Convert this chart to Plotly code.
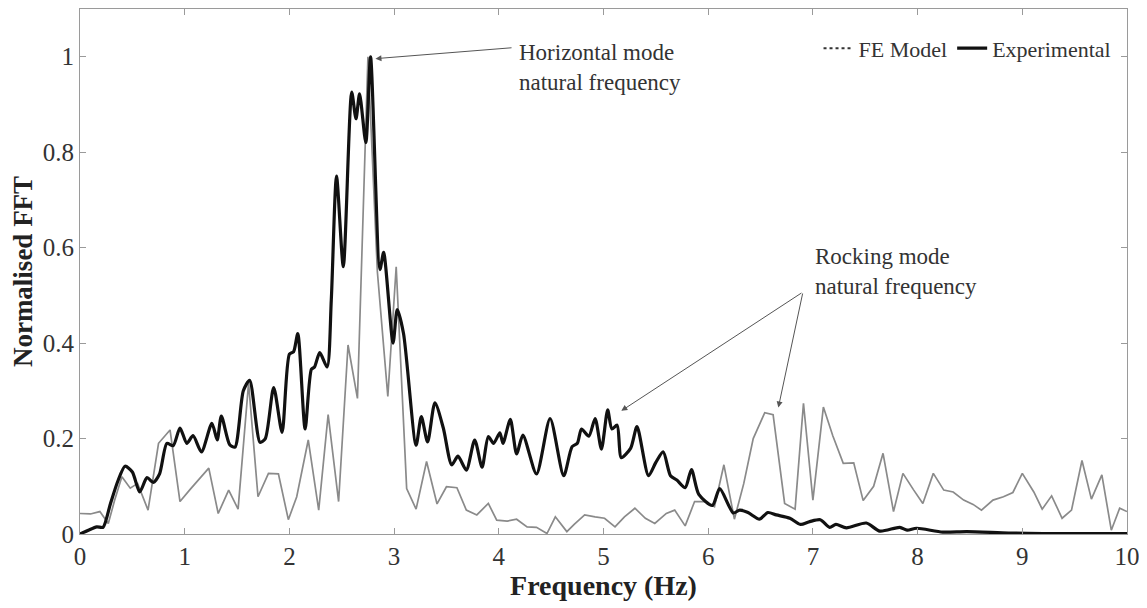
import plotly.graph_objects as go

# Experimental (smooth black curve)
exp_f = [0, 0.08, 0.16, 0.22, 0.29, 0.36, 0.43, 0.50, 0.57, 0.64, 0.70, 0.76, 0.83, 0.89, 0.955,
         1.02, 1.08, 1.16, 1.26, 1.31, 1.35, 1.43, 1.48, 1.56, 1.62, 1.72, 1.77, 1.85, 1.93,
         2.00, 2.04, 2.08, 2.15, 2.21, 2.24, 2.29, 2.36, 2.40, 2.45, 2.515, 2.595, 2.636, 2.67,
         2.73, 2.775, 2.865, 2.90, 2.99, 3.03, 3.09, 3.21, 3.26, 3.32, 3.39, 3.47, 3.55, 3.61,
         3.69, 3.77, 3.84, 3.90, 3.95, 4.01, 4.04, 4.11, 4.17, 4.23, 4.36, 4.49, 4.62, 4.70,
         4.75, 4.79, 4.86, 4.92, 4.98, 5.04, 5.08, 5.13, 5.17, 5.26, 5.32, 5.43, 5.50, 5.57,
         5.64, 5.70, 5.78, 5.84, 5.91, 6.04, 6.11, 6.24, 6.30, 6.38, 6.49, 6.57, 6.65, 6.78,
         6.88, 6.97, 7.07, 7.16, 7.22, 7.32, 7.51, 7.64, 7.83, 7.90, 7.99, 8.24, 8.47, 8.87,
         9.2, 10.0]
exp_v = [0.0, 0.008, 0.015, 0.014, 0.063, 0.11, 0.142, 0.13, 0.088, 0.118, 0.108, 0.126, 0.19,
         0.185, 0.222, 0.19, 0.206, 0.172, 0.232, 0.197, 0.247, 0.187, 0.182, 0.30, 0.322,
         0.192, 0.20, 0.307, 0.213, 0.377, 0.382, 0.42, 0.22, 0.345, 0.35, 0.38, 0.35, 0.49,
         0.75, 0.56, 0.926, 0.87, 0.922, 0.82, 1.0, 0.554, 0.59, 0.40, 0.47, 0.42, 0.186,
         0.246, 0.193, 0.275, 0.222, 0.145, 0.163, 0.134, 0.197, 0.14, 0.204, 0.19, 0.212,
         0.19, 0.24, 0.168, 0.207, 0.126, 0.242, 0.122, 0.183, 0.19, 0.22, 0.205, 0.242,
         0.178, 0.26, 0.22, 0.228, 0.16, 0.18, 0.225, 0.122, 0.15, 0.172, 0.122, 0.113,
         0.097, 0.135, 0.083, 0.06, 0.095, 0.044, 0.05, 0.045, 0.031, 0.045, 0.04, 0.033,
         0.02, 0.026, 0.03, 0.014, 0.02, 0.013, 0.023, 0.006, 0.014, 0.008, 0.012, 0.004,
         0.005, 0.002, 0.001, 0.001]

# FE Model (thin grey polyline)
fe_f = [0, 0.1, 0.19, 0.27, 0.33, 0.40, 0.48, 0.55, 0.65, 0.75, 0.86, 0.955, 1.05, 1.14, 1.23,
        1.32, 1.42, 1.51, 1.61, 1.70, 1.80, 1.895, 1.99, 2.07, 2.18, 2.28, 2.37, 2.47, 2.56,
        2.65, 2.75, 2.84, 2.94, 3.02, 3.12, 3.21, 3.31, 3.41, 3.50, 3.60, 3.69, 3.79, 3.90,
        3.98, 4.08, 4.17, 4.27, 4.36, 4.46, 4.54, 4.65, 4.72, 4.82, 4.92, 5.01, 5.11, 5.20,
        5.30, 5.40, 5.49, 5.60, 5.68, 5.78, 5.87, 5.97, 6.06, 6.15, 6.25, 6.34, 6.43, 6.54,
        6.62, 6.73, 6.83, 6.91, 7.00, 7.10, 7.19, 7.29, 7.39, 7.48, 7.58, 7.67, 7.77, 7.86,
        7.96, 8.05, 8.15, 8.25, 8.34, 8.44, 8.53, 8.61, 8.72, 8.82, 8.91, 9.00, 9.11, 9.19,
        9.28, 9.38, 9.47, 9.57, 9.66, 9.76, 9.85, 9.93, 10.0]
fe_v = [0.043, 0.042, 0.047, 0.022, 0.07, 0.12, 0.096, 0.106, 0.05, 0.19, 0.218, 0.068, 0.093,
        0.115, 0.138, 0.043, 0.092, 0.052, 0.316, 0.078, 0.127, 0.126, 0.03, 0.078, 0.197,
        0.05, 0.25, 0.068, 0.396, 0.284, 1.0, 0.55, 0.288, 0.56, 0.095, 0.052, 0.152, 0.063,
        0.099, 0.097, 0.05, 0.04, 0.064, 0.029, 0.027, 0.031, 0.015, 0.014, 0.001, 0.036,
        0.005, 0.02, 0.04, 0.036, 0.033, 0.015, 0.036, 0.054, 0.033, 0.022, 0.043, 0.05,
        0.017, 0.068, 0.068, 0.057, 0.145, 0.031, 0.106, 0.2, 0.254, 0.25, 0.064, 0.052,
        0.274, 0.071, 0.266, 0.206, 0.148, 0.149, 0.07, 0.1, 0.169, 0.047, 0.127, 0.093,
        0.064, 0.127, 0.092, 0.088, 0.071, 0.062, 0.05, 0.071, 0.078, 0.087, 0.127, 0.088,
        0.052, 0.08, 0.033, 0.05, 0.154, 0.073, 0.124, 0.008, 0.054, 0.047]

x_ticks = [0, 1, 2, 3, 4, 5, 6, 7, 8, 9, 10]
y_ticks = [0, 0.2, 0.4, 0.6, 0.8, 1]
y_tick_labels = ["0", "0.2", "0.4", "0.6", "0.8", "1"]

FONT = "Liberation Serif"

fig = go.Figure()
fig.add_trace(go.Scatter(x=fe_f, y=fe_v, mode="lines", name="FE Model", showlegend=False,
                         line=dict(color="#8a8a8a", width=1.7)))
fig.add_trace(go.Scatter(x=[None], y=[None], mode="lines", name="FE Model",
                         line=dict(color="#333333", width=2, dash="dot")))
fig.add_trace(go.Scatter(x=exp_f, y=exp_v, mode="lines", name="Experimental",
                         line=dict(color="#111111", width=3.2, shape="spline", smoothing=0.7)))

axis_common = dict(showline=True, linecolor="#9a9a9a", linewidth=1.2, mirror="ticks",
                   ticks="inside", ticklen=6, tickcolor="#9a9a9a", showgrid=False,
                   zeroline=False, automargin=False,
                   tickfont=dict(family=FONT, size=25, color="#333"))

fig.update_xaxes(range=[0, 10], tickvals=x_ticks,
                 title=dict(text="<b>Frequency (Hz)</b>", font=dict(family=FONT, size=28, color="#222"),
                            standoff=4),
                 **axis_common)
fig.update_yaxes(range=[0, 1.1], tickvals=y_ticks, ticktext=y_tick_labels,
                 title=dict(text="<b>Normalised FFT</b>", font=dict(family=FONT, size=27, color="#222"),
                            standoff=2),
                 **axis_common)

arrow_style = dict(showarrow=True, arrowhead=2, arrowsize=1.2, arrowwidth=1, arrowcolor="#555",
                   axref="x", ayref="y", text="")
fig.add_annotation(x=2.822, y=0.996, ax=4.136, ay=1.019, **arrow_style)
fig.add_annotation(x=5.17, y=0.258, ax=6.905, ay=0.507, **arrow_style)
fig.add_annotation(x=6.67, y=0.265, ax=6.905, ay=0.507, **arrow_style)

fig.add_annotation(x=4.17, y=0.977, xanchor="left", yanchor="middle", align="left",
                   text="Horizontal mode<br>natural frequency", showarrow=False,
                   font=dict(family=FONT, size=23, color="#333"))
fig.add_annotation(x=7.0, y=0.549, xanchor="left", yanchor="middle", align="left",
                   text="Rocking mode<br>natural frequency", showarrow=False,
                   font=dict(family=FONT, size=23, color="#333"))

# page body has an 8px margin, so the figure is sized/offset to compensate
fig.update_layout(
    width=1139, height=600,
    margin=dict(l=72, r=20, t=1, b=74),
    paper_bgcolor="white", plot_bgcolor="white",
    legend=dict(orientation="h", x=0.99, xanchor="right", y=0.925, yanchor="middle",
                font=dict(family=FONT, size=22, color="#333"), bgcolor="rgba(0,0,0,0)",
                itemwidth=30, tracegroupgap=0),
)

fig.write_html("out.html")
